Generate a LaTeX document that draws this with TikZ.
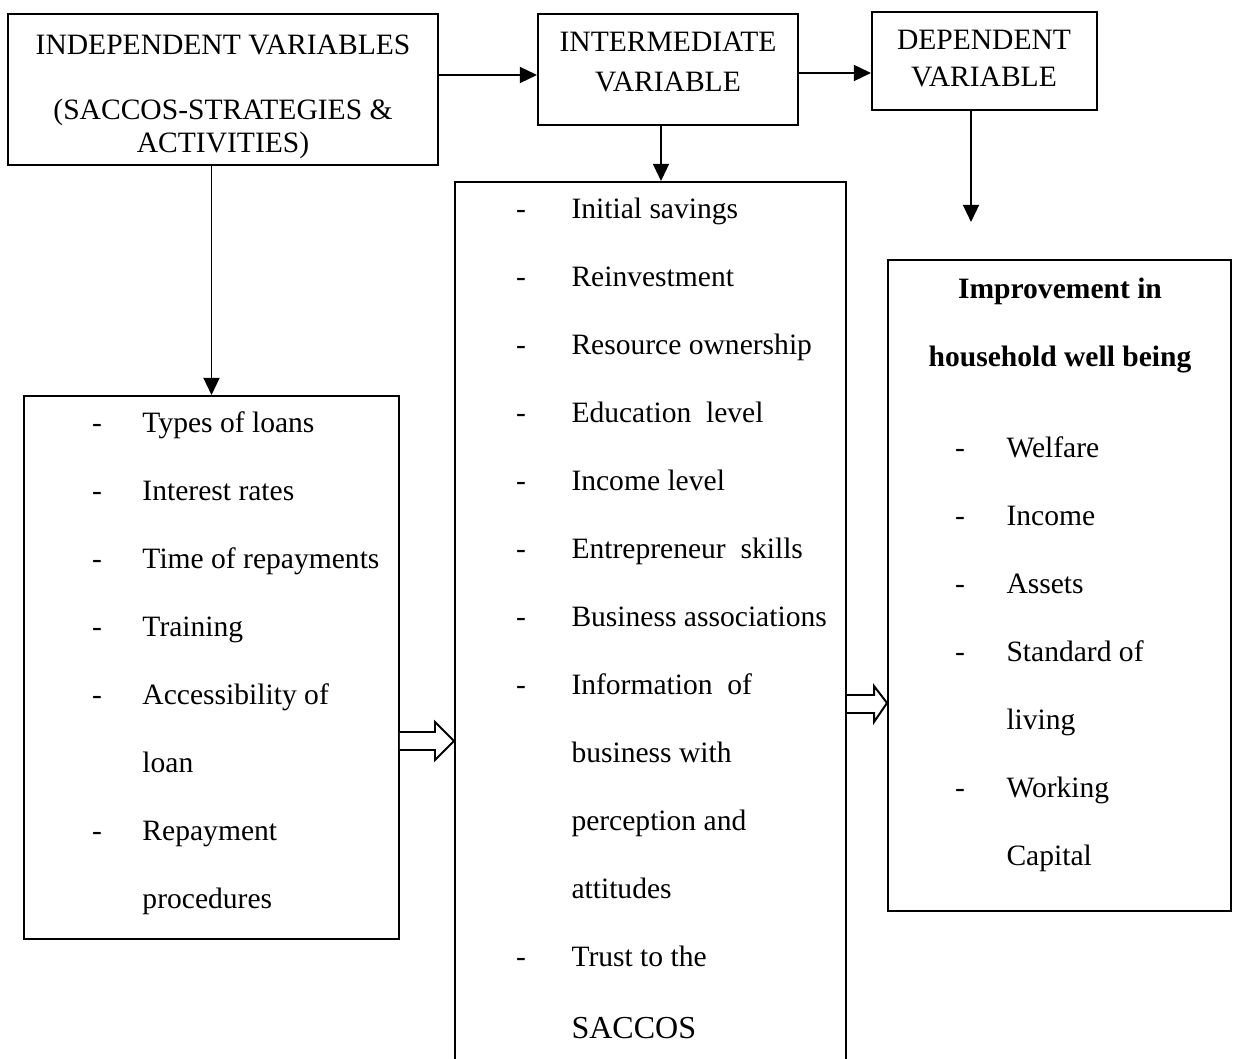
\documentclass[tikz,border=0pt]{standalone}
\usepackage{fontspec}
\setmainfont{Liberation Serif}
\usetikzlibrary{arrows.meta,fit}

\tikzset{
    box/.style={draw, line width=0.8pt, inner sep=0pt},
    item/.style={anchor=base west, yshift=-3pt, inner sep=0pt, font=\fontsize{12}{14}\selectfont},
    bullet/.style={anchor=base, yshift=-3pt, inner sep=0pt, font=\fontsize{12}{14}\selectfont},
    title/.style={anchor=base, yshift=-3.8pt, inner sep=0pt, font=\fontsize{12}{14}\selectfont},
    flow/.style={-{Triangle[length=7pt,width=6.5pt]}, line width=0.8pt},
    hollow/.style={draw, line width=0.8pt, fill=white}
}

\begin{document}
\begin{tikzpicture}[x=0.406pt, y=-0.406pt]
    %--------------------%
    % Parameters
    %--------------------%
    \def\rowsep{68}
    \def\ldash{97}
    \def\ltext{142}
    \def\mdash{521}
    \def\mtext{571}
    \def\rdash{960}
    \def\rtext{1006}

    \useasboundingbox (0,0) rectangle (1237,1059);

    %--------------------%
    % Top Boxes
    %--------------------%
    \node[box, fit={(8,14) (438,165)}] (indep) {};
    \node[title] (indep1) at (223,45) {INDEPENDENT VARIABLES};
    \node[title] (indep2) at (223,110) {(SACCOS-STRATEGIES \&};
    \node[title] (indep3) at (223,143) {ACTIVITIES)};

    \node[box, fit={(538,14) (798,125)}] (inter) {};
    \node[title] (inter1) at (668,42) {INTERMEDIATE};
    \node[title] (inter2) at (668,82) {VARIABLE};

    \node[box, fit={(872,12) (1097,110)}] (dep) {};
    \node[title] (dep1) at (984,40) {DEPENDENT};
    \node[title] (dep2) at (984,77) {VARIABLE};

    %--------------------%
    % Left Box
    %--------------------%
    \node[box, fit={(24,396) (399,939)}] (loans) {};
    \node[bullet] (ld1) at (\ldash,425+0*\rowsep) {-};
    \node[item] (l1) at (\ltext,425+0*\rowsep) {Types of loans};
    \node[bullet] (ld2) at (\ldash,425+1*\rowsep) {-};
    \node[item] (l2) at (\ltext,425+1*\rowsep) {Interest rates};
    \node[bullet] (ld3) at (\ldash,425+2*\rowsep) {-};
    \node[item] (l3) at (\ltext,425+2*\rowsep) {Time of repayments};
    \node[bullet] (ld4) at (\ldash,425+3*\rowsep) {-};
    \node[item] (l4) at (\ltext,425+3*\rowsep) {Training};
    \node[bullet] (ld5) at (\ldash,425+4*\rowsep) {-};
    \node[item] (l5) at (\ltext,425+4*\rowsep) {Accessibility of};
    \node[item] (l6) at (\ltext,425+5*\rowsep) {loan};
    \node[bullet] (ld7) at (\ldash,425+6*\rowsep) {-};
    \node[item] (l7) at (\ltext,425+6*\rowsep) {Repayment};
    \node[item] (l8) at (\ltext,425+7*\rowsep) {procedures};

    %--------------------%
    % Middle Box
    %--------------------%
    \node[box, fit={(455,182) (846,1080)}] (factors) {};
    \node[bullet] (md1) at (\mdash,211+0*\rowsep) {-};
    \node[item] (m1) at (\mtext,211+0*\rowsep) {Initial savings};
    \node[bullet] (md2) at (\mdash,211+1*\rowsep) {-};
    \node[item] (m2) at (\mtext,211+1*\rowsep) {Reinvestment};
    \node[bullet] (md3) at (\mdash,211+2*\rowsep) {-};
    \node[item] (m3) at (\mtext,211+2*\rowsep) {Resource ownership};
    \node[bullet] (md4) at (\mdash,211+3*\rowsep) {-};
    \node[item] (m4) at (\mtext,211+3*\rowsep) {Education~ level};
    \node[bullet] (md5) at (\mdash,211+4*\rowsep) {-};
    \node[item] (m5) at (\mtext,211+4*\rowsep) {Income level};
    \node[bullet] (md6) at (\mdash,211+5*\rowsep) {-};
    \node[item] (m6) at (\mtext,211+5*\rowsep) {Entrepreneur~ skills};
    \node[bullet] (md7) at (\mdash,211+6*\rowsep) {-};
    \node[item] (m7) at (\mtext,211+6*\rowsep) {Business associations};
    \node[bullet] (md8) at (\mdash,211+7*\rowsep) {-};
    \node[item] (m8) at (\mtext,211+7*\rowsep) {Information~ of};
    \node[item] (m9) at (\mtext,211+8*\rowsep) {business with};
    \node[item] (m10) at (\mtext,211+9*\rowsep) {perception and};
    \node[item] (m11) at (\mtext,211+10*\rowsep) {attitudes};
    \node[bullet] (md12) at (\mdash,211+11*\rowsep) {-};
    \node[item] (m12) at (\mtext,211+11*\rowsep) {Trust to the};
    \node[item, yshift=-0.8pt, font=\fontsize{13}{15}\selectfont] (m13) at (\mtext,1029) {SACCOS};

    %--------------------%
    % Right Box
    %--------------------%
    \node[box, fit={(888,260) (1231,911)}] (wellbeing) {};
    \node[title, font=\fontsize{12}{14}\selectfont\bfseries] (r0a) at (1060,289) {Improvement in};
    \node[title, font=\fontsize{12}{14}\selectfont\bfseries] (r0b) at (1060,357) {household well being};
    \node[bullet] (rd1) at (\rdash,450+0*\rowsep) {-};
    \node[item] (r1) at (\rtext,450+0*\rowsep) {Welfare};
    \node[bullet] (rd2) at (\rdash,450+1*\rowsep) {-};
    \node[item] (r2) at (\rtext,450+1*\rowsep) {Income};
    \node[bullet] (rd3) at (\rdash,450+2*\rowsep) {-};
    \node[item] (r3) at (\rtext,450+2*\rowsep) {Assets};
    \node[bullet] (rd4) at (\rdash,450+3*\rowsep) {-};
    \node[item] (r4) at (\rtext,450+3*\rowsep) {Standard of};
    \node[item] (r5) at (\rtext,450+4*\rowsep) {living};
    \node[bullet] (rd6) at (\rdash,450+5*\rowsep) {-};
    \node[item] (r6) at (\rtext,450+5*\rowsep) {Working};
    \node[item] (r7) at (\rtext,450+6*\rowsep) {Capital};

    %--------------------%
    % Connections
    %--------------------%
    \coordinate (depend) at (971,222);
    \draw[flow] (indep.east |- 0,75) -- (inter.west |- 0,75);
    \draw[flow] (inter.east |- 0,73) -- (dep.west |- 0,73);
    \draw[flow] (indep.south -| loans.north) -- (loans.north);
    \draw[flow] (inter.south -| 661,0) -- (factors.north -| 661,0);
    \draw[flow] (dep.south -| depend) -- (depend);

    % Hollow arrows
    \draw[hollow] (loans.east |- 0,732) -- (435,732) -- (435,722) -- (factors.west |- 0,741)
        -- (435,760) -- (435,750) -- (loans.east |- 0,750);
    \draw[hollow] (factors.east |- 0,695) -- (874,695) -- (874,686) -- (wellbeing.west |- 0,703)
        -- (874,722) -- (874,713) -- (factors.east |- 0,713);

\end{tikzpicture}
\end{document}
